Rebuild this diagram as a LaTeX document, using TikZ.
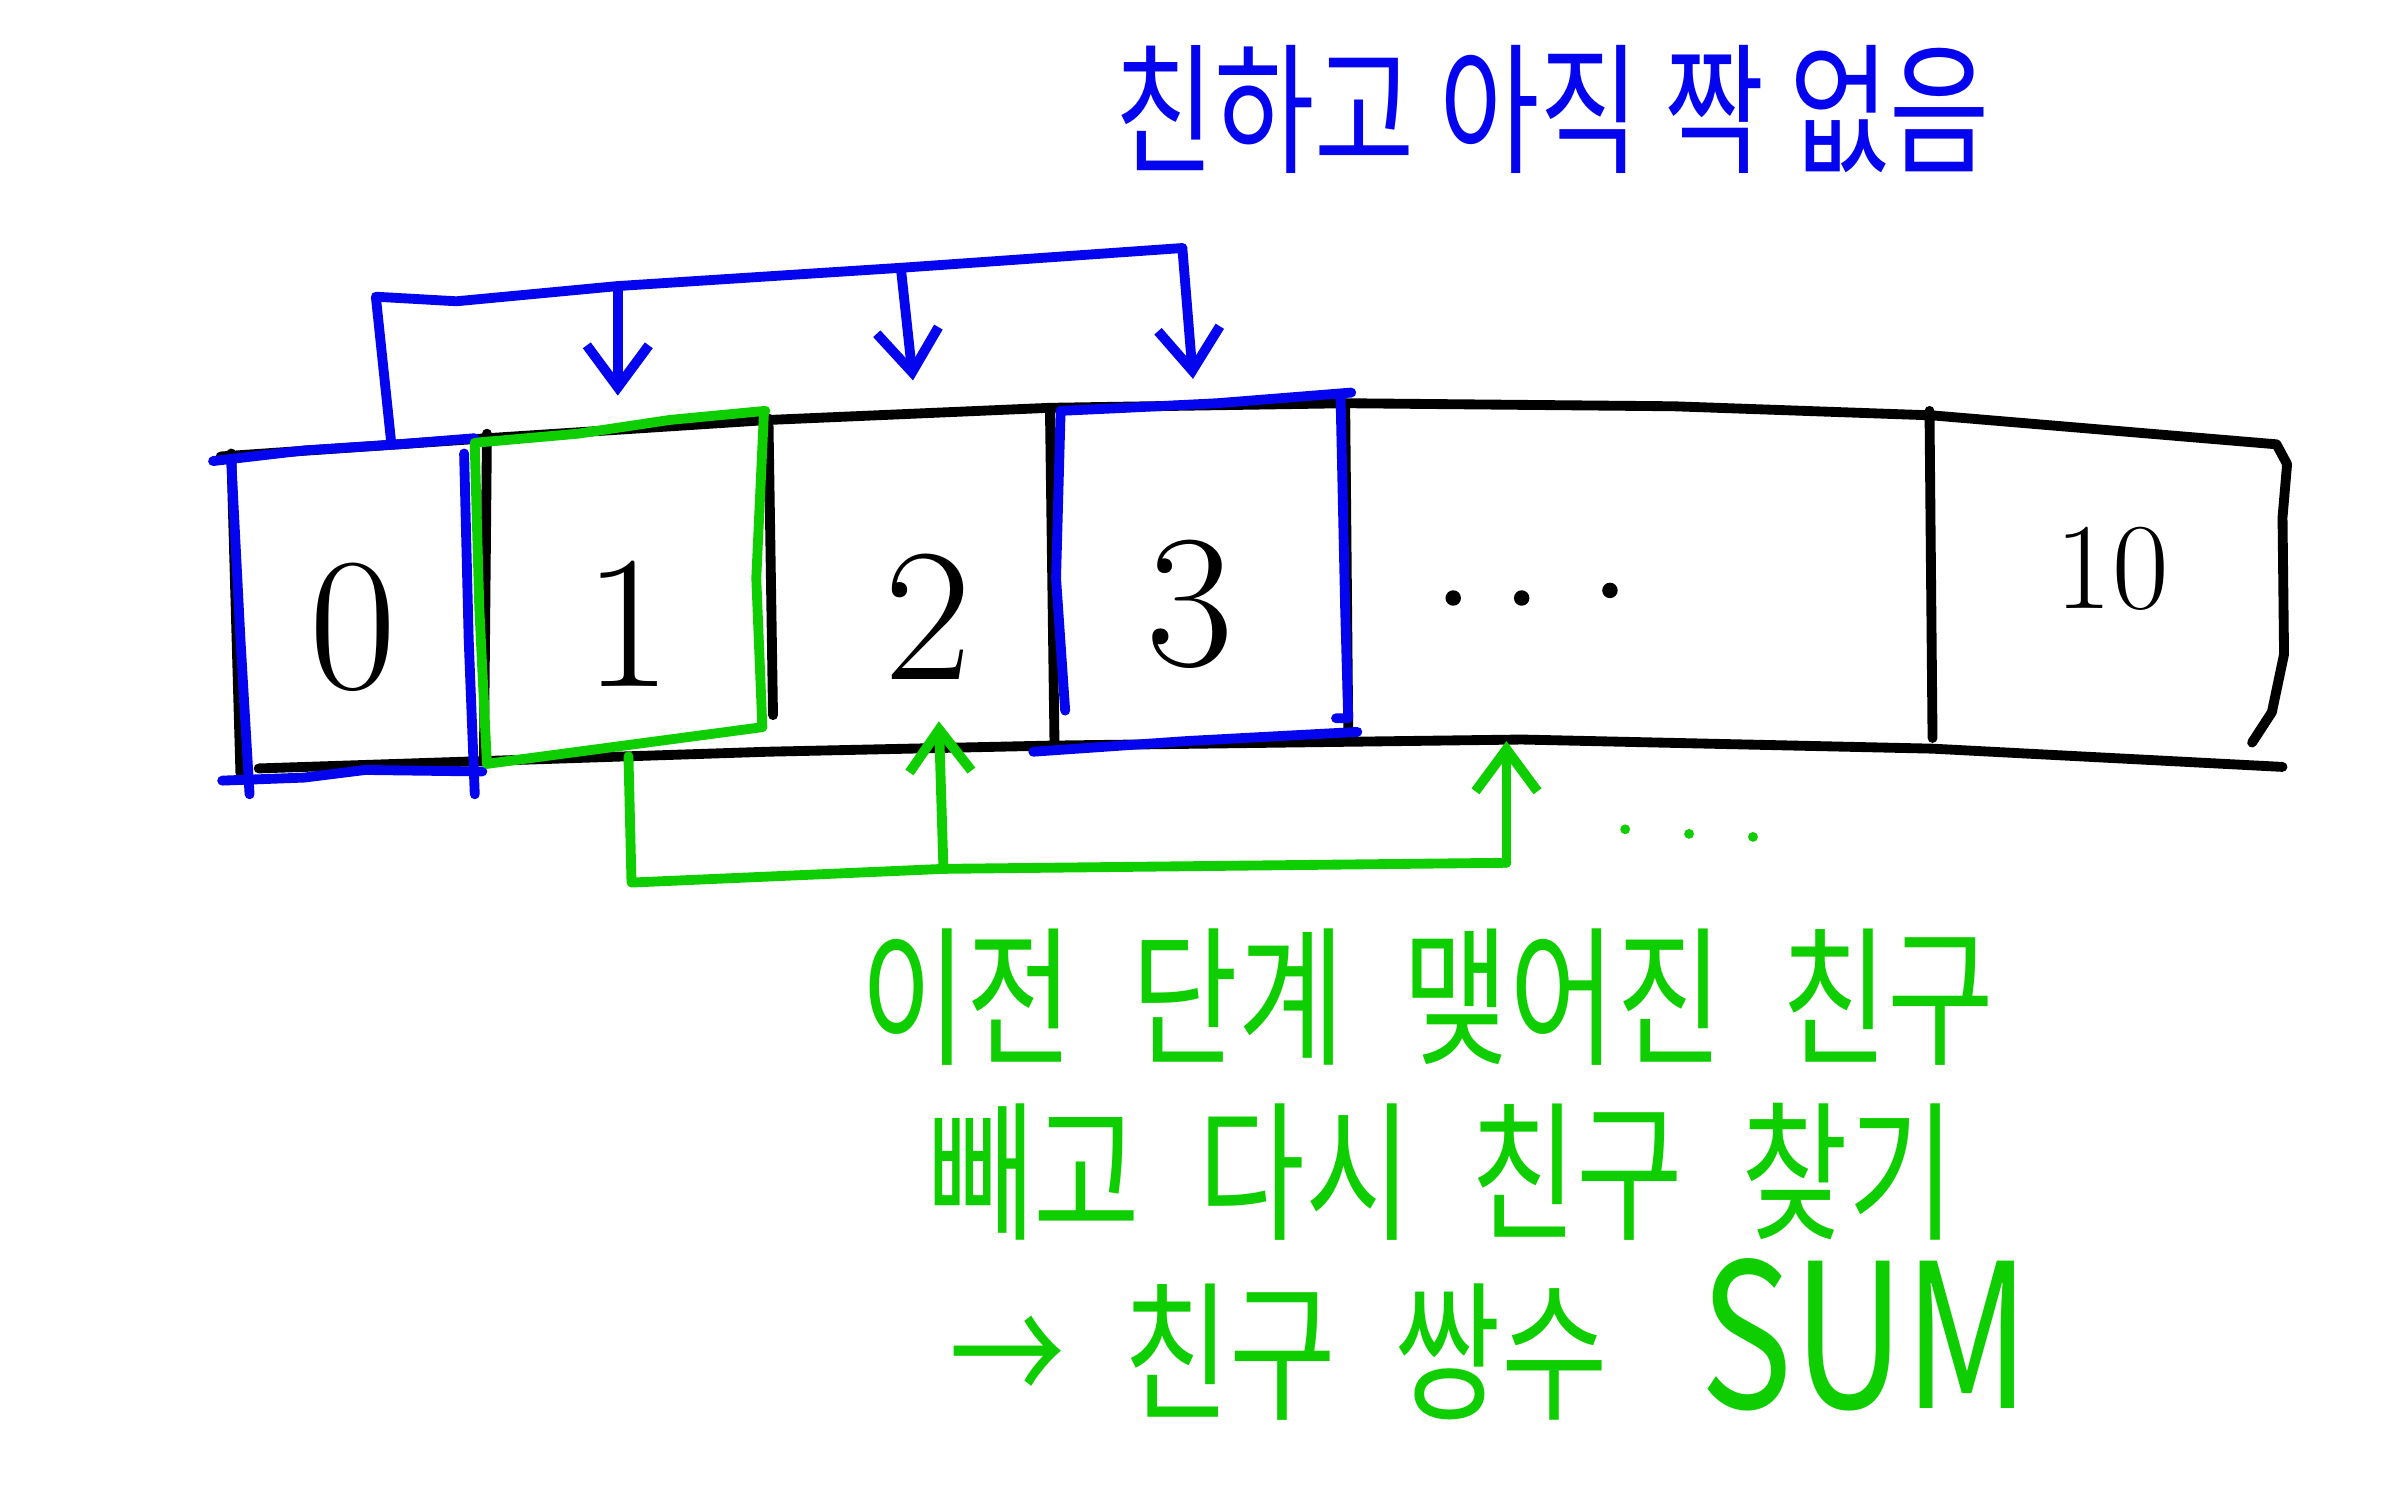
\documentclass[tikz,border=0pt]{standalone}
\usepackage{fontspec}
\usepackage{graphicx}
\newfontfamily\hangul{Noto Sans CJK KR}
\usetikzlibrary{arrows.meta}
\definecolor{penblue}{RGB}{4,4,238}
\definecolor{pengreen}{RGB}{14,206,0}
\newcommand\wordgap{\hspace{0.5em}}
\newcommand\tallhand[1]{\scalebox{1}[1.3]{#1}}

\begin{document}
\begin{tikzpicture}[>={Straight Barb[length=0.42cm,width=0.62cm]},x=0.015217cm,y=-0.015217cm,
		pen/.style={line width=2.8pt,line cap=round,line join=round},
		digit/.style={font=\fontsize{54}{60}\selectfont},
		note/.style={font=\hangul\fontsize{33}{40}\selectfont,inner sep=1pt}]
	\useasboundingbox (0,0) rectangle (1568,980);

	\draw[pen] (145,300) -- (320,288) -- (505,276) -- (690,268) -- (885,265) -- (1100,267) -- (1270,273) -- (1496,292) -- (1503,305) -- (1500,340) -- (1501,430) -- (1493,468) -- (1480,488);
	\draw[pen] (170,505) -- (505,494) -- (690,490) -- (1000,486) -- (1270,492) -- (1500,504);
	\foreach \x/\xb/\ya/\yb in {152/158/298/508,320/318/285/500,505/508/275/470,690/693/270/490,884/886/265/478,1268/1270/270/485}
		\draw[pen] (\x,\ya) -- (\xb,\yb);

	\foreach \x/\y/\n/\xtext in {232/412/c0/0,413/410/c1/1,610/405/c2/2,782/397/c3/3}
		\node[digit] (\n) at (\x,\y) {\xtext};
	\node[font=\fontsize{35}{40}\selectfont] (c10) at (1388,374) {10};
	\foreach \x/\y in {955/393,1000/393,1058/388}
		\fill (\x,\y) circle (2.2pt);

	\draw[pen,penblue] (140,303) -- (200,296) -- (262,292) -- (312,288);
	\draw[pen,penblue] (152,303) -- (158,420) -- (164,522);
	\draw[pen,penblue] (305,298) -- (308,420) -- (312,522);
	\draw[pen,penblue] (146,513) -- (200,511) -- (240,506) -- (317,507);
	\draw[pen,penblue] (697,270) -- (740,268) -- (800,265) -- (888,258);
	\draw[pen,penblue] (697,270) -- (694,380) -- (700,467);
	\draw[pen,penblue] (881,262) -- (884,400) -- (886,472) -- (878,472);
	\draw[pen,penblue] (679,494) -- (780,487) -- (892,481);

	\draw[pen,pengreen] (312,291) -- (380,285) -- (440,276) -- (503,270);
	\draw[pen,pengreen] (312,293) -- (315,400) -- (320,502);
	\draw[pen,pengreen] (502,272) -- (497,380) -- (501,478);
	\draw[pen,pengreen] (320,502) -- (410,490) -- (500,478);

	\coordinate (b0) at (257,290);
	\coordinate (b1) at (406,188);
	\coordinate (b2) at (592,176);
	\coordinate (b3) at (777,163);
	\coordinate (a1) at (406,260);
	\coordinate (a2) at (600,250);
	\coordinate (a3) at (784,249);
	\draw[pen,penblue] (b0) -- (247,195) -- (300,198) -- (b1) -- (b2) -- (b3);
	\foreach \i in {1,2,3}
		\draw[pen,penblue,->] (b\i) -- (a\i);

	\coordinate (g0) at (413,497);
	\coordinate (g1) at (620,571);
	\coordinate (g2) at (990,567);
	\coordinate (h1) at (617,474);
	\coordinate (h2) at (990,487);
	\draw[pen,pengreen] (g0) -- (415,580) -- (g1) -- (g2);
	\foreach \i in {1,2}
		\draw[pen,pengreen,->] (g\i) -- (h\i);
	\foreach \x/\y in {1068/545,1110/548,1152/550}
		\fill[pengreen] (\x,\y) circle (1.4pt);

	\node[note,font=\hangul\fontsize{31}{38}\selectfont,text=penblue] (title) at (1020,72) {\tallhand{친하고 아직 짝 없음}};
	\node[note,text=pengreen] (line1) at (938,655) {\tallhand{이전\wordgap 단계\wordgap 맺어진\wordgap 친구}};
	\node[note,text=pengreen] (line2) at (947,770) {\tallhand{빼고\wordgap 다시\wordgap 친구\wordgap 찾기}};
	\node[note,text=pengreen] (line3) at (979,880) {\tallhand{→\wordgap 친구\wordgap 쌍수\hspace{0.8em}{\fontsize{44}{50}\selectfont SUM}}};
\end{tikzpicture}
\end{document}
